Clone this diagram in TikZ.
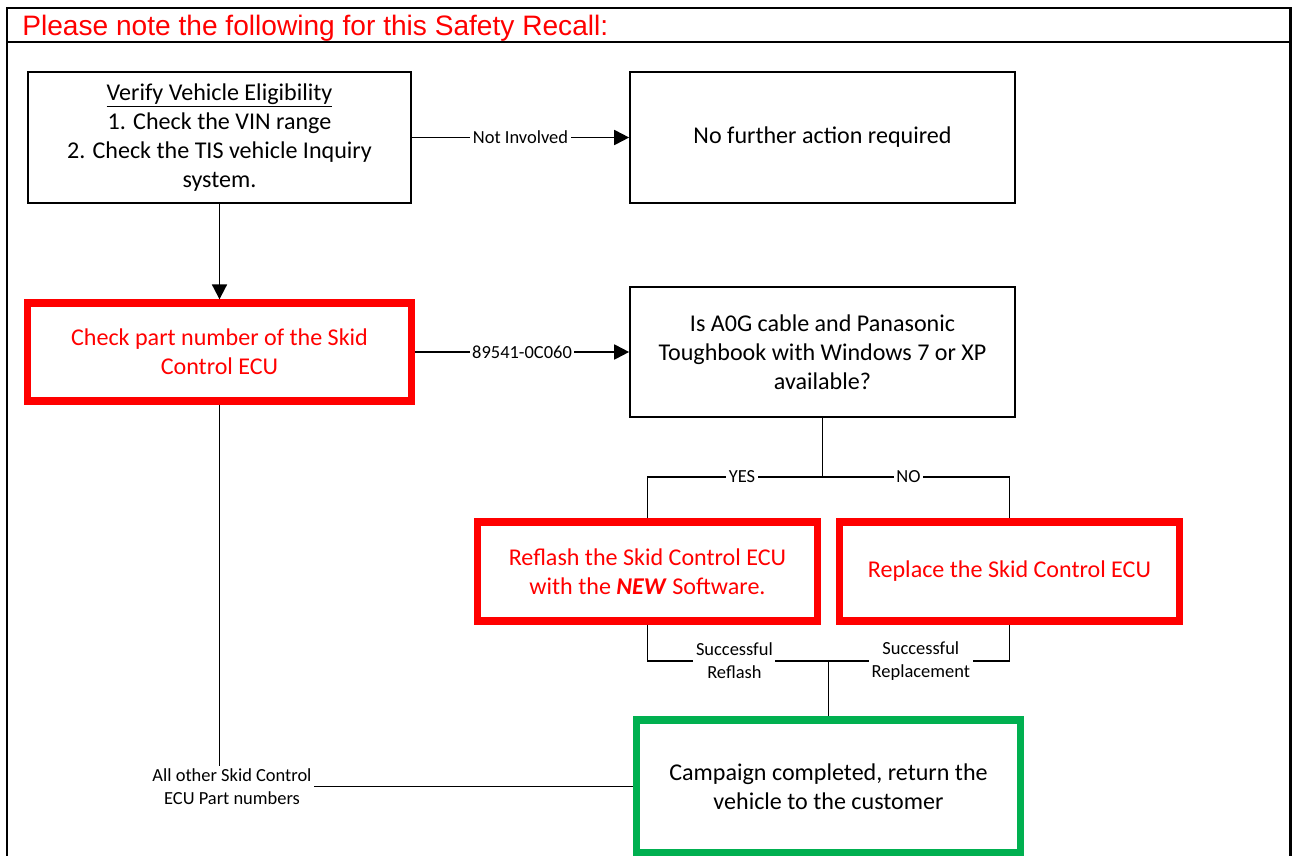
\documentclass[tikz,border=0pt]{standalone}
\usepackage{fontspec}
\setmainfont{Carlito}
\newfontfamily\headfont{Liberation Sans}
\usepackage{xcolor}
\usetikzlibrary{positioning,arrows.meta}
\definecolor{recallred}{HTML}{FF0000}
\definecolor{donegreen}{HTML}{00B050}

\begin{document}
\begin{tikzpicture}[
  x=0.02cm, y=-0.02cm,
  stepbox/.style={draw, line width=1pt, align=center, inner sep=2pt,
                  font=\fontsize{13.7pt}{16.6pt}\selectfont},
  redbox/.style={stepbox, draw=recallred, line width=4.2pt, text=recallred},
  greenbox/.style={stepbox, draw=donegreen, line width=4.2pt},
  conn/.style={line width=1.1pt},
  arrowconn/.style={conn, -{Triangle[length=8.5pt, width=8.5pt]}},
  lbl/.style={fill=white, inner sep=1.5pt, align=center,
              font=\fontsize{10.5pt}{13pt}\selectfont},
]
  \useasboundingbox (0,0) rectangle (1296,856);

  % --- Frame and heading ---
  \draw[line width=1.5pt] (7,856) -- (7,8) -- (1290.5,8) -- (1290.5,856);
  \draw[line width=1.5pt] (7,42) -- (1290.5,42);
  \node[anchor=base west, inner sep=0pt, text=recallred,
        font=\headfont\fontsize{16pt}{19pt}\selectfont]
        (title) at (22,35) {Please note the following for this Safety Recall:};

  % --- Top row ---
  \node[stepbox, minimum width=7.66cm, minimum height=2.62cm] (verify) at (219.5,137.5)
    {\underline{Verify Vehicle Eligibility}\\1. Check the VIN range\\
     2. Check the TIS vehicle Inquiry\\system.};
  \node[stepbox, minimum width=7.7cm, minimum height=2.62cm] (noaction) at (822.5,137.5)
    {No further action required};

  % --- Second row ---
  \node[redbox, minimum width=7.67cm, minimum height=1.96cm] (part) at (219.5,352)
    {Check part number of the Skid\\Control ECU};
  \node[stepbox, minimum width=7.7cm, minimum height=2.6cm] (cable) at (822.5,352)
    {Is A0G cable and Panasonic\\Toughbook with Windows 7 or XP\\available?};

  % --- Repair options ---
  \node[redbox, minimum width=6.8cm, minimum height=1.98cm] (reflash) at (647.5,571.5)
    {Reflash the Skid Control ECU\\with the \textbf{\textit{NEW}} Software.};
  \node[redbox, minimum width=6.8cm, minimum height=1.98cm] (replace) at (1009.5,571.5)
    {Replace the Skid Control ECU};

  % --- Result ---
  \node[greenbox, minimum width=7.68cm, minimum height=2.66cm] (done) at (828.5,786.5)
    {Campaign completed, return the\\vehicle to the customer};

  % --- Connectors ---
  \draw[arrowconn] (verify.east) -- (noaction.west) node[lbl, midway] {Not Involved};
  \draw[arrowconn] (verify.south) -- (part.north);
  \draw[arrowconn] (part.east) -- (cable.west) node[lbl, midway] {89541-0C060};

  \coordinate (split) at (822.5,477);
  \draw[conn] (cable.south) -- (split);
  \draw[conn] (split) -| (reflash.north) node[lbl, pos=0.23] {YES};
  \draw[conn] (split) -| (replace.north) node[lbl, pos=0.23] {NO};

  \coordinate (merge) at (828.5,661);
  \draw[conn] (reflash.south) |- (merge) node[lbl, pos=0.74] {Successful\\Reflash};
  \draw[conn] (replace.south) |- (merge) node[lbl, pos=0.745] {Successful\\Replacement};
  \draw[conn] (merge) -- (done.north);

  \draw[conn] (part.south) |- (done.west)
    node[lbl, pos=0.5, xshift=0.25cm] {All other Skid Control\\ECU Part numbers};

\end{tikzpicture}
\end{document}
